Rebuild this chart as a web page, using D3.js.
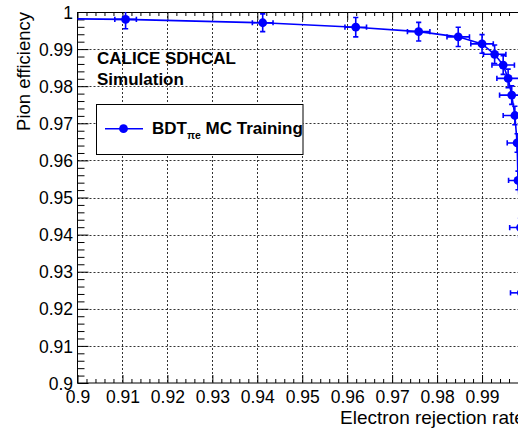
<!DOCTYPE html>
<html>
<head>
<meta charset="utf-8">
<script src="https://cdn.jsdelivr.net/npm/d3@7"></script>
<style>
  html, body { margin: 0; padding: 0; background: #fff; overflow: hidden; }
  svg { display: block; font-family: "Liberation Sans", Arial, sans-serif; }
</style>
</head>
<body>
<svg id="chart" width="518" height="430"></svg>
<script>
// ---- data ----
const rejection  = [0.8900, 0.9107, 0.9412, 0.9619, 0.9759, 0.9847, 0.9900, 0.9928, 0.9947, 0.9958, 0.9966, 0.9973, 0.9978, 0.9980, 0.99855, 0.99873];
const efficiency = [0.9983, 0.9980, 0.9971, 0.9959, 0.9947, 0.9933, 0.9914, 0.9886, 0.9857, 0.9821, 0.9776, 0.9721, 0.9647, 0.9546, 0.9419, 0.9243];
const rejectionErr  = [0.0024, 0.0024, 0.0023, 0.0024, 0.0025, 0.0025, 0.0025, 0.0025, 0.0025, 0.0025, 0.0027, 0.0026, 0.0022, 0.0021, 0.0024, 0.0024];
const efficiencyErr = [0.0025, 0.0025, 0.0024, 0.0026, 0.0025, 0.0026, 0.0025, 0.0025, 0.0025, 0.0025, 0.0025, 0.0025, 0.0025, 0.0025, 0.0025, 0.0025];

const xTicks = [0.90, 0.91, 0.92, 0.93, 0.94, 0.95, 0.96, 0.97, 0.98, 0.99, 1.00];
const xTickLabels = ["0.9", "0.91", "0.92", "0.93", "0.94", "0.95", "0.96", "0.97", "0.98", "0.99", "1"];
const yTicks = [0.90, 0.91, 0.92, 0.93, 0.94, 0.95, 0.96, 0.97, 0.98, 0.99, 1.00];
const yTickLabels = ["0.9", "0.91", "0.92", "0.93", "0.94", "0.95", "0.96", "0.97", "0.98", "0.99", "1"];
const minorPerMajor = 5;

const xTitle = "Electron rejection rate";
const yTitle = "Pion efficiency";
const labelLine1 = "CALICE SDHCAL";
const labelLine2 = "Simulation";
const legendMain = "BDT";
const legendSub = "πe";
const legendRest = " MC Training";

// ---- layout ----
const svg = d3.select("#chart");
const L = 77.5, R = 527, T = 12, B = 383;
const x = d3.scaleLinear().domain([0.9, 1.0]).range([L, R]);
const y = d3.scaleLinear().domain([0.9, 1.0]).range([B, T]);
const blue = "#0000ff";

function minors(ticks) {
  const out = [];
  for (let i = 0; i < ticks.length - 1; i++) {
    const step = (ticks[i + 1] - ticks[i]) / minorPerMajor;
    for (let j = 1; j < minorPerMajor; j++) out.push(ticks[i] + j * step);
  }
  return out;
}

// grid
const grid = svg.append("g").attr("stroke", "#333").attr("stroke-width", 1)
  .attr("stroke-dasharray", "2,2").attr("fill", "none");
xTicks.slice(1, -1).forEach(v => {
  grid.append("line").attr("x1", Math.round(x(v)) + 0.5).attr("x2", Math.round(x(v)) + 0.5)
    .attr("y1", T).attr("y2", B);
});
yTicks.slice(1, -1).forEach(v => {
  grid.append("line").attr("x1", L).attr("x2", R)
    .attr("y1", Math.round(y(v)) + 0.5).attr("y2", Math.round(y(v)) + 0.5);
});

// axes
const fontTick = "17.5px";
svg.append("g").attr("transform", `translate(0,${B})`)
  .call(d3.axisBottom(x).tickValues(xTicks).tickSizeInner(-8).tickSizeOuter(0).tickPadding(7.5)
    .tickFormat((d, i) => xTickLabels[i]));
svg.append("g").attr("transform", `translate(0,${B})`)
  .call(d3.axisBottom(x).tickValues(minors(xTicks)).tickSizeInner(-4).tickSizeOuter(0).tickFormat(""));
svg.append("g").attr("transform", `translate(0,${T})`)
  .call(d3.axisTop(x).tickValues(xTicks).tickSizeInner(-8).tickSizeOuter(0).tickFormat(""));
svg.append("g").attr("transform", `translate(0,${T})`)
  .call(d3.axisTop(x).tickValues(minors(xTicks)).tickSizeInner(-4).tickSizeOuter(0).tickFormat(""));
const yAxis = svg.append("g").attr("transform", `translate(${L},0)`)
  .call(d3.axisLeft(y).tickValues(yTicks).tickSizeInner(-11).tickSizeOuter(0).tickPadding(4.5)
    .tickFormat((d, i) => yTickLabels[i]));
svg.append("g").attr("transform", `translate(${L},0)`)
  .call(d3.axisLeft(y).tickValues(minors(yTicks)).tickSizeInner(-7).tickSizeOuter(0).tickFormat(""));

svg.selectAll(".domain").remove();
svg.selectAll(".tick line").attr("stroke", "#000").attr("stroke-width", 1);
svg.selectAll(".tick text").attr("font-size", fontTick).attr("font-family", "Liberation Sans, Arial, sans-serif").attr("fill", "#000");
yAxis.selectAll(".tick text").attr("dy", "0.35em");

// frame
svg.append("rect").attr("x", L).attr("y", T + 0.5).attr("width", R - L).attr("height", B - T - 0.5)
  .attr("fill", "none").attr("stroke", "#000").attr("stroke-width", 1);

// titles
svg.append("text").attr("x", 340).attr("y", 424).attr("text-anchor", "start")
  .attr("font-size", "19px").attr("fill", "#000").text(xTitle);
svg.append("text").attr("transform", `translate(29.5,${T}) rotate(-90)`).attr("text-anchor", "end")
  .attr("font-size", "18.5px").attr("fill", "#000").text(yTitle);

// data
const pts = rejection.map((v, i) => ({ x: v, y: efficiency[i], ex: rejectionErr[i], ey: efficiencyErr[i] }));
svg.append("clipPath").attr("id", "clip").append("rect")
  .attr("x", L).attr("y", T).attr("width", R - L).attr("height", B - T);
const dg = svg.append("g").attr("clip-path", "url(#clip)");
dg.append("path").datum(pts)
  .attr("d", d3.line().x(d => x(d.x)).y(d => y(d.y)))
  .attr("fill", "none").attr("stroke", blue).attr("stroke-width", 1.6);
const cap = 2.6;
const eb = dg.append("g").attr("stroke", blue).attr("stroke-width", 1.6);
pts.forEach(d => {
  const cx = x(d.x), cy = y(d.y);
  const x0 = x(d.x - d.ex), x1 = x(d.x + d.ex);
  const y0 = y(d.y - d.ey), y1 = y(d.y + d.ey);
  eb.append("line").attr("x1", x0).attr("x2", x1).attr("y1", cy).attr("y2", cy);
  eb.append("line").attr("x1", cx).attr("x2", cx).attr("y1", y0).attr("y2", y1);
  eb.append("line").attr("x1", x0).attr("x2", x0).attr("y1", cy - cap).attr("y2", cy + cap);
  eb.append("line").attr("x1", x1).attr("x2", x1).attr("y1", cy - cap).attr("y2", cy + cap);
  eb.append("line").attr("x1", cx - cap).attr("x2", cx + cap).attr("y1", y0).attr("y2", y0);
  eb.append("line").attr("x1", cx - cap).attr("x2", cx + cap).attr("y1", y1).attr("y2", y1);
});
dg.selectAll("circle.pt").data(pts).join("circle").attr("class", "pt")
  .attr("cx", d => x(d.x)).attr("cy", d => y(d.y)).attr("r", 4.4).attr("fill", blue);

// text labels
svg.append("text").attr("x", 97).attr("y", 64).attr("font-size", "17px").attr("font-weight", "bold")
  .attr("fill", "#000").text(labelLine1);
svg.append("text").attr("x", 97).attr("y", 85).attr("font-size", "17px").attr("font-weight", "bold")
  .attr("fill", "#000").text(labelLine2);

// legend
const lg = svg.append("g");
lg.append("rect").attr("x", 96.5).attr("y", 104.5).attr("width", 206.5).attr("height", 50)
  .attr("fill", "#fff").attr("stroke", "#000").attr("stroke-width", 1);
lg.append("line").attr("x1", 105).attr("x2", 143).attr("y1", 128.7).attr("y2", 128.7)
  .attr("stroke", blue).attr("stroke-width", 1.6);
lg.append("circle").attr("cx", 123.5).attr("cy", 128.7).attr("r", 4.4).attr("fill", blue);
const lt = lg.append("text").attr("x", 152).attr("y", 134).attr("font-size", "17px")
  .attr("font-weight", "bold").attr("fill", "#000");
lt.append("tspan").text(legendMain);
lt.append("tspan").attr("font-size", "10.5px").attr("dy", 5).text(legendSub);
lt.append("tspan").attr("dy", -5).text(legendRest);
</script>
</body>
</html>
